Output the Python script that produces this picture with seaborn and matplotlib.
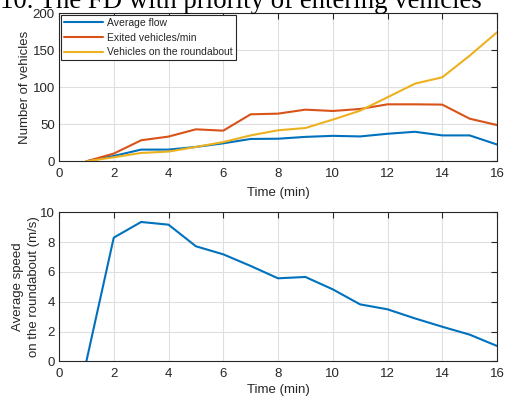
import numpy as np
import pandas as pd
import matplotlib
matplotlib.use("Agg")
import matplotlib.pyplot as plt
import seaborn as sns

# ---- data ----
time_min = [1, 2, 3, 4, 5, 6, 7, 8, 9, 10, 11, 12, 13, 14, 15, 16]
average_flow = [0, 7.2, 15.8, 15.8, 19.4, 24.3, 30.2, 30.5, 33.0, 34.4, 33.6, 37.2, 39.9, 35.0, 35.0, 22.7]
exited_per_min = [0, 10.4, 28.4, 33.4, 43.2, 41.4, 63.5, 64.4, 69.8, 68.0, 70.7, 77.0, 77.0, 76.6, 57.6, 49.0]
vehicles_on_rb = [0, 5.4, 11.3, 13.1, 19.4, 26.0, 35.0, 41.9, 45.0, 56.3, 68.4, 86.5, 104.9, 113.5, 142.7, 174.3]
avg_speed = [0, 8.3, 9.35, 9.17, 7.72, 7.18, 6.4, 5.57, 5.66, 4.83, 3.82, 3.49, 2.88, 2.32, 1.79, 1.03]

series_names = ["Average flow", "Exited vehicles/min", "Vehicles on the roundabout"]
colors = ["#0072BD", "#D95319", "#EDB120"]
x_ticks = [0, 2, 4, 6, 8, 10, 12, 14, 16]
y1_ticks = [0, 50, 100, 150, 200]
y2_ticks = [0, 2, 4, 6, 8, 10]
title_text = "10. The FD with priority of entering vehicles"

sns.set_theme(style="white")
plt.rcParams["font.family"] = ["Liberation Sans", "DejaVu Sans"]
plt.rcParams["font.size"] = 9.5

df = pd.DataFrame({
    "t": time_min * 3,
    "value": average_flow + exited_per_min + vehicles_on_rb,
    "series": sum([[n] * len(time_min) for n in series_names], []),
})
df_speed = pd.DataFrame({"t": time_min, "speed": avg_speed})

fig = plt.figure(figsize=(5.05, 3.96), dpi=100)
W, H = 505, 396
ax1 = fig.add_axes([59 / W, 1 - 161.3 / H, 438 / W, 148 / H])
ax2 = fig.add_axes([59 / W, 1 - 361.3 / H, 438 / W, 149 / H])

sns.lineplot(data=df, x="t", y="value", hue="series", palette=colors,
             hue_order=series_names, ax=ax1, linewidth=1.5, legend=True)
sns.lineplot(data=df_speed, x="t", y="speed", color=colors[0], ax=ax2, linewidth=1.5)

spine_col = "#262626"
for ax, yt, lp in ((ax1, y1_ticks, 5), (ax2, y2_ticks, 2.5)):
    ax.set_xlim(0, 16)
    ax.set_xticks(x_ticks)
    ax.set_ylim(yt[0], yt[-1])
    ax.set_yticks(yt)
    ax.grid(True, color="#DFDFDF", linewidth=0.8)
    ax.set_axisbelow(True)
    for s in ax.spines.values():
        s.set_visible(True)
        s.set_color(spine_col)
        s.set_linewidth(0.8)
    ax.tick_params(direction="in", length=4, width=0.8, top=True, right=True,
                   colors=spine_col, labelsize=9.5, labelcolor="#262626")
    ax.tick_params(axis="x", pad=5)
    ax.tick_params(axis="y", pad=3)
    ax.set_xlabel("Time (min)", fontsize=9.5, labelpad=lp, color="#262626")

ax1.set_ylabel("Number of vehicles", fontsize=9.5, labelpad=1, color="#262626")
ax2.set_ylabel("Average speed\non the roundabout (m/s)", fontsize=9.5, labelpad=0,
               color="#262626", linespacing=1.4)

leg = ax1.legend(loc="upper left", fontsize=7.5, frameon=True, fancybox=False,
                 framealpha=1, edgecolor="#262626", borderaxespad=0.15,
                 labelspacing=0.45, handlelength=3.8, handletextpad=0.4,
                 borderpad=0.3, title=None)
leg.get_frame().set_linewidth(0.8)
for line in leg.get_lines():
    line.set_linewidth(1.5)

fig.text(0.0, 1 - 7.5 / H, title_text, family=["Liberation Serif", "DejaVu Serif"],
         fontsize=19.3, ha="left", va="baseline", color="black")

fig.savefig("out.png", dpi=100)
